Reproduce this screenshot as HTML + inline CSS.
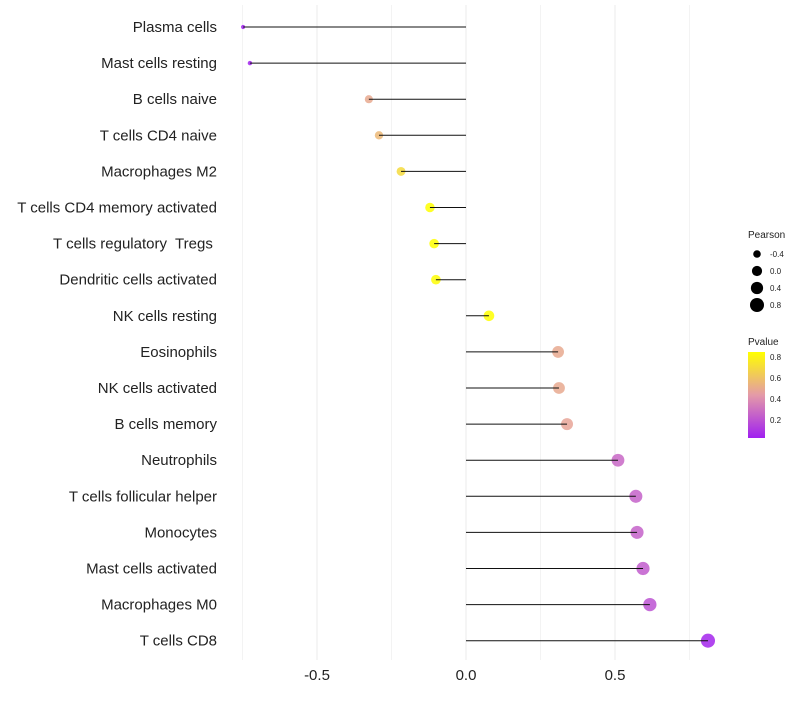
<!DOCTYPE html>
<html><head><meta charset="utf-8"><style>
body{margin:0;background:#fff;font-family:"Liberation Sans",sans-serif}
text{white-space:pre}
</style></head><body>
<svg id="c" width="800" height="700" xmlns="http://www.w3.org/2000/svg">
<defs><linearGradient id="pg" x1="0" y1="1" x2="0" y2="0">
<stop offset="0" stop-color="#a020f0"/><stop offset="0.5" stop-color="#e49aa8"/><stop offset="1" stop-color="#ffff00"/></linearGradient></defs>
</svg>
<script>
const categories=["Plasma cells","Mast cells resting","B cells naive","T cells CD4 naive","Macrophages M2","T cells CD4 memory activated","T cells regulatory  Tregs ","Dendritic cells activated","NK cells resting","Eosinophils","NK cells activated","B cells memory","Neutrophils","T cells follicular helper","Monocytes","Mast cells activated","Macrophages M0","T cells CD8"];
const pearson=[-0.748,-0.725,-0.326,-0.292,-0.218,-0.121,-0.107,-0.101,0.077,0.309,0.312,0.339,0.51,0.57,0.574,0.594,0.617,0.812];
const pvalue=[0.03,0.04,0.5,0.56,0.7,0.86,0.86,0.84,0.88,0.5,0.5,0.48,0.27,0.25,0.25,0.23,0.2,0.05];
const xTicks=[-0.5,0,0.5];
const xTickLabels=["-0.5","0.0","0.5"];
const sizeLegend=[-0.4,0,0.4,0.8];
const pLegend=[0.2,0.4,0.6,0.8];
const NS="http://www.w3.org/2000/svg";
const svg=document.getElementById('c');
const X=v=>466+v*298;
const Y=i=>27+i*36.1;
const R=v=>Math.sqrt(Math.max(26+29*v,3));
function lerp(a,b,t){return a.map((x,i)=>Math.round(x+(b[i]-x)*t));}
function col(p){const t=Math.max(0,Math.min(1,(p-0.03)/0.82));
const a=[160,32,240],m=[228,154,168],b=[255,255,0];
const c=t<0.5?lerp(a,m,t*2):lerp(m,b,(t-0.5)*2);return `rgb(${c})`;}
function el(tag,attrs,txt){const e=document.createElementNS(NS,tag);for(const k in attrs)e.setAttribute(k,attrs[k]);if(txt!==undefined)e.textContent=txt;svg.appendChild(e);return e;}
for(let v=-0.75;v<=0.76;v+=0.25){const g=el('line',{x1:X(v),x2:X(v),y1:5,y2:660,stroke:Math.abs(v*2-Math.round(v*2))<1e-6?'#ebebeb':'#f3f3f3','stroke-width':1});

}
xTicks.forEach((v,i)=>{const t=el('text',{x:X(v),y:680,'text-anchor':'middle','font-size':15,fill:'#222'},xTickLabels[i]);

});
categories.forEach((c,i)=>{
const t=el('text',{x:217,y:Y(i)+5,'text-anchor':'end','font-size':15,fill:'#222'},c);


const p=el('circle',{cx:X(pearson[i]),cy:Y(i),r:R(pearson[i]),fill:col(pvalue[i]),'fill-opacity':0.85});


const s=el('line',{x1:X(0),x2:X(pearson[i]),y1:Y(i),y2:Y(i),stroke:'#111','stroke-width':1});

});
let t1=el('text',{x:748,y:238,'font-size':10,fill:'#222'},'Pearson');


sizeLegend.forEach((v,i)=>{const y=254+i*17;
const c=el('circle',{cx:757,cy:y,r:R(v),fill:'#000'});


const t=el('text',{x:770,y:y+3,'font-size':8,fill:'#222'},v===0?'0.0':String(v));

});
let t2=el('text',{x:748,y:345,'font-size':10,fill:'#222'},'Pvalue');


let cb=el('rect',{x:748,y:352,width:17,height:86,fill:'url(#pg)'});


pLegend.forEach(v=>{const y=438-(v-0.029)*105;
const t=el('text',{x:770,y:y+3,'font-size':8,fill:'#222'},v.toFixed(1));

});
</script>
</body></html>
